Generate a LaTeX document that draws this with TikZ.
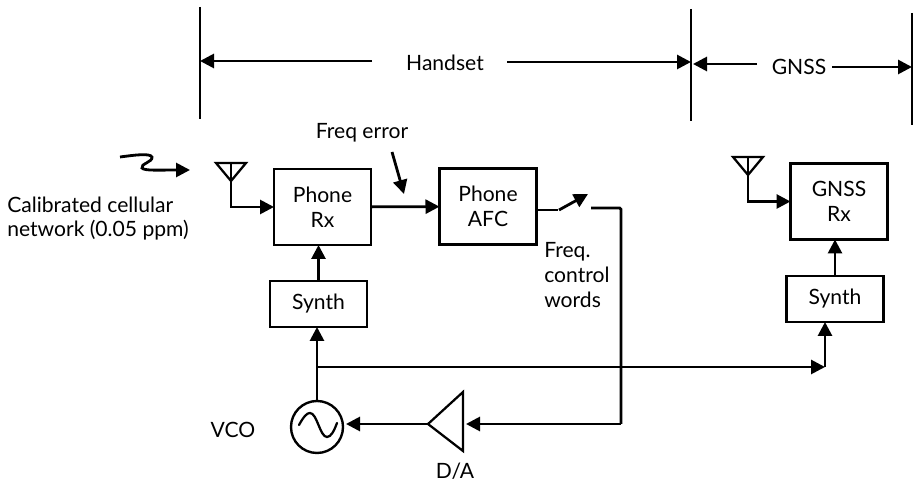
\documentclass[tikz,border=0pt]{standalone}
\usepackage{fontspec}
\setmainfont{Lato}
\usepackage{tikz}
\usetikzlibrary{arrows.meta, calc}

\begin{document}
\begin{tikzpicture}[
  x=0.25mm, y=-0.25mm,
  font=\fontsize{15}{17.7}\selectfont,
  block/.style={draw=black, line width=2pt, minimum width=24.25mm, minimum height=19mm,
                align=center, outer sep=0pt, inner sep=0pt},
  synth/.style={block, minimum height=11.5mm},
  msg/.style={-{Triangle[length=3.5mm, width=3.5mm]}, line width=2pt},
  wire/.style={line width=2pt},
  bar/.style={line width=2.1pt},
  antenna/.style={line width=1.6pt, line join=miter},
  label/.style={align=left, anchor=west, inner sep=0pt},
]
  \useasboundingbox (0,0) rectangle (918,484);

  % --- extent bars ---
  \coordinate (barA) at (200,7);
  \coordinate (barB) at (691,9);
  \coordinate (barC) at (912,13);
  \foreach \b in {barA,barB,barC}{ \draw[bar] (\b) -- ++(0,112); }

  % --- extent labels ---
  \node (tHandset) at (445,63) [inner sep=0pt] {Handset};
  \node (tGnss) at (799,67) [inner sep=0pt] {GNSS};
  \draw[msg] (372,61) -- (barA |- 0,61);
  \draw[msg] (507,62) -- (barB |- 0,62);
  \draw[msg] (757,64) -- (693,64);
  \draw[msg] (832,67) -- (barC |- 0,67);

  % --- blocks ---
  \node[block] (hRx) at (322.5,207) {Phone\\Rx};
  \node[synth] (hSyn) at (318.5,304) {Synth};
  \node[block] (hAfc) at (488,206.5) {Phone\\AFC};
  \node[block] (gRx) at (839,201.5) {GNSS\\Rx};
  \node[synth] (gSyn) at (835,299) {Synth};
  \node[draw, circle, line width=1.7pt, minimum size=13mm, inner sep=0pt, outer sep=0pt] (vco) at (317,427) {};

  % --- sine inside the oscillator ---
  \draw[line width=1.6pt, line cap=round] (299,425) .. controls (304,416) and (307,413) .. (310,413)
    .. controls (317,413) and (320,437) .. (327,437) .. controls (331,437) and (334,431) .. (337,423);

  % --- D/A triangle ---
  \coordinate (daTip) at (428,424);
  \coordinate (daTop) at (463,392);
  \coordinate (daBot) at (463,451);
  \draw[line width=1.6pt, line join=miter] (daTip) -- (daTop) -- (daBot) -- cycle;

  % --- antennas ---
  \coordinate (antL) at (231,181);
  \coordinate (antR) at (748,175);
  \foreach \a in {antL,antR}{
    \draw[antenna] (\a) -- ++(-15,-18) -- ++(30,0) -- cycle;
    \draw[antenna] (\a) -- ++(0,-18);
  }
  \draw[msg] (antL) |- (hRx);
  \draw[msg] (antR) |- (gRx);

  % --- incoming wave ---
  \draw[msg] (120,157) .. controls (135,155) and (150,153) .. (152,157)
    .. controls (153,162) and (140,164) .. (142,168) .. controls (144,171) and (160,170) .. (190,170);

  % --- receive path ---
  \draw[msg] (hRx) -- (hAfc);
  \draw[msg] (hSyn.north) -- (hSyn.north |- hRx.south);
  \draw[msg] (gSyn.north) -- (gSyn.north |- gRx.south);
  \draw[msg] (392,152) -- (404,194);
  \node[inner sep=0pt] (tErr) at (362,133) {Freq error};

  % --- switch ---
  \coordinate (swA) at (558,210);
  \coordinate (swB) at (588,194);
  \coordinate (swC) at (591,208);
  \coordinate (swD) at (621,208);
  \draw[wire] (hAfc.east |- swA) -- (swA);
  \draw[msg] (559,210) -- (swB);

  % --- control loop ---
  \coordinate (daIn) at (466,424);
  \coordinate (loopEnd) at (621,424);
  \draw[wire, rounded corners=1pt] (swC) -- (swD) -- (loopEnd);
  \draw[msg] (loopEnd) -- (daIn);
  \draw[msg] (daTip) -- ($(vco.east |- daTip)+(3,0)$);

  % --- oscillator outputs ---
  \coordinate (split) at (317,367);
  \coordinate (gTurn) at (825,367);
  \draw[msg] (vco.north) -- (hSyn.south -| vco);
  \draw[msg] (split) -- (gTurn);
  \draw[msg] (gTurn) -- (gTurn |- gSyn.south);

  % --- labels ---
  \node[label] (tNet) at (7,218.5) {Calibrated cellular\\network (0.05 ppm)};
  \node[label] (tWords) at (544,275) {Freq.\\control\\words};
  \node[inner sep=0pt] (tVco) at (233,430) {VCO};
  \node[inner sep=0pt] (tDa) at (455,471) {D/A};
\end{tikzpicture}
\end{document}
